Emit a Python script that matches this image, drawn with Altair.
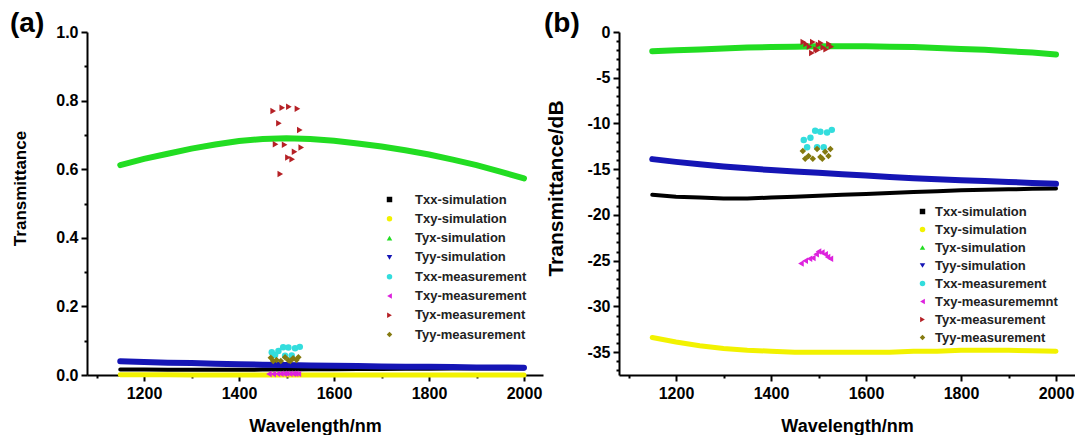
import altair as alt
import pandas as pd

# ---------------- shared wavelength grid of the simulated curves ----------------
wl_sim = [1150, 1200, 1250, 1300, 1350, 1400, 1450, 1500, 1550, 1600,
          1650, 1700, 1750, 1800, 1850, 1900, 1950, 2000]

# ---------------- panel (a): linear transmittance ----------------
a_txx_sim = [0.0162, 0.0158, 0.0154, 0.0151, 0.0151, 0.0153, 0.0157, 0.0162, 0.0166,
             0.0170, 0.0174, 0.0178, 0.0181, 0.0185, 0.0187, 0.0189, 0.0190, 0.0191]
a_txy_sim = [0.0005, 0.0004, 0.0004, 0.0003, 0.0003, 0.0003, 0.0003, 0.0003, 0.0003,
             0.0003, 0.0003, 0.0003, 0.0003, 0.0003, 0.0003, 0.0003, 0.0003, 0.0003]
a_tyx_sim = [0.612, 0.630, 0.645, 0.660, 0.672, 0.682, 0.688, 0.690, 0.688,
             0.683, 0.675, 0.666, 0.655, 0.643, 0.628, 0.612, 0.593, 0.573]
a_tyy_sim = [0.040, 0.038, 0.036, 0.035, 0.033, 0.031, 0.030, 0.029, 0.028,
             0.027, 0.026, 0.025, 0.024, 0.024, 0.023, 0.022, 0.022, 0.021]

a_txx_meas_wl = [1469, 1483, 1493, 1504, 1518, 1528, 1476, 1497, 1511]
a_txx_meas = [0.066, 0.070, 0.081, 0.080, 0.078, 0.082, 0.058, 0.056, 0.057]
a_txy_meas_wl = [1463, 1472, 1481, 1488, 1495, 1500, 1507, 1514, 1519, 1525]
a_txy_meas = [0.0030, 0.0032, 0.0033, 0.0034, 0.0037, 0.0040, 0.0039, 0.0037, 0.0035, 0.0033]
a_tyx_meas_wl = [1472, 1491, 1505, 1523, 1484, 1528, 1477, 1496, 1531, 1517, 1503, 1512, 1487]
a_tyx_meas = [0.770, 0.779, 0.782, 0.776, 0.734, 0.714, 0.673, 0.671, 0.663, 0.651, 0.634, 0.629, 0.586]
a_tyy_meas_wl = [1467, 1479, 1488, 1497, 1504, 1514, 1525, 1472, 1508, 1521]
a_tyy_meas = [0.050, 0.044, 0.041, 0.052, 0.043, 0.049, 0.052, 0.041, 0.041, 0.044]

# ---------------- panel (b): transmittance in dB ----------------
b_txx_sim = [-17.8, -18.0, -18.1, -18.2, -18.2, -18.1, -18.0, -17.9, -17.8,
             -17.7, -17.6, -17.5, -17.4, -17.3, -17.25, -17.2, -17.15, -17.1]
b_txy_sim = [-33.4, -33.9, -34.3, -34.6, -34.8, -34.9, -35.0, -35.0, -35.0,
             -35.0, -35.0, -34.9, -34.9, -34.8, -34.8, -34.8, -34.85, -34.9]
b_tyx_sim = [-2.1, -2.0, -1.9, -1.8, -1.7, -1.65, -1.6, -1.55, -1.55,
             -1.55, -1.6, -1.65, -1.75, -1.85, -1.95, -2.1, -2.25, -2.45]
b_tyy_sim = [-13.9, -14.2, -14.45, -14.7, -14.9, -15.1, -15.25, -15.4, -15.55,
             -15.7, -15.85, -16.0, -16.1, -16.2, -16.3, -16.4, -16.5, -16.6]

b_txx_meas_wl = [1469, 1483, 1493, 1504, 1518, 1528, 1476, 1497, 1511]
b_txx_meas = [-11.8, -11.55, -10.8, -10.9, -11.0, -10.7, -12.6, -12.6, -12.6]
b_txy_meas_wl = [1463, 1472, 1481, 1488, 1495, 1500, 1507, 1514, 1519, 1525]
b_txy_meas = [-25.3, -25.0, -24.8, -24.7, -24.3, -24.0, -24.1, -24.3, -24.6, -24.8]
b_tyx_meas_wl = [1468, 1474, 1481, 1488, 1495, 1500, 1505, 1510, 1516, 1522, 1527, 1486, 1498]
b_tyx_meas = [-1.1, -1.3, -1.6, -1.1, -1.9, -1.4, -1.2, -1.7, -1.9, -1.3, -1.6, -2.3, -2.0]
b_tyy_meas_wl = [1467, 1479, 1488, 1497, 1504, 1514, 1525, 1472, 1508, 1521]
b_tyy_meas = [-13.0, -13.55, -13.85, -12.8, -13.66, -13.1, -12.8, -13.85, -13.85, -13.55]

# ---------------- legend names, colours, shapes ----------------
sim_names = ["Txx-simulation", "Txy-simulation", "Tyx-simulation", "Tyy-simulation"]
a_meas_names = ["Txx-measurement", "Txy-measurement", "Tyx-measurement", "Tyy-measurement"]
b_meas_names = ["Txx-measurement", "Txy-measurememnt", "Tyx-measurement", "Tyy-measurement"]
series_colors = ["#000000", "#f2f200", "#22dd22", "#1515b5",
                 "#33dddd", "#dd22dd", "#b52025", "#857a10"]
series_shapes = ["square", "circle", "triangle-up", "triangle-down",
                 "circle", "triangle-left", "triangle-right", "diamond"]
sim_widths = [4, 5, 6, 6]
sim_draw_order = [1, 0, 3, 2]   # yellow, black, blue, green

FONT = "Liberation Sans"


def long_table(names, wl_lists, val_lists):
    rows = []
    for n, wls, vals in zip(names, wl_lists, val_lists):
        for w, v in zip(wls, vals):
            rows.append({"series": n, "wl": w, "val": v})
    return pd.DataFrame(rows)


def make_panel(tag, sim_vals, meas_wls, meas_vals, meas_names, ydom, yvals,
               ylab_test, ylab_expr, ytitle, ytitle_size, ytitle_x, ytitle_y,
               leg_x, leg_y, leg_font, leg_row, leg_offset, tag_x):
    names = sim_names + meas_names
    meas = long_table(meas_names, meas_wls, meas_vals)
    lab = pd.DataFrame({"label": [tag]})

    xs = alt.Scale(domain=[1080, 2040], nice=False, zero=False)
    ys = alt.Scale(domain=ydom, nice=False, zero=False)
    cs = alt.Scale(domain=names, range=series_colors)
    ss = alt.Scale(domain=names, range=series_shapes)

    xaxis = alt.Axis(
        title="Wavelength/nm", values=list(range(1100, 2001, 100)),
        labelExpr="datum.value % 200 == 0 ? datum.value : ''",
        tickSize={"condition": {"test": "datum.value % 200 == 0", "value": 6}, "value": 3},
        labelFontSize=16, labelPadding=4, titleFontSize=18, titlePadding=16,
    )
    yaxis = alt.Axis(
        title=ytitle, values=yvals, labelExpr=ylab_expr,
        tickSize={"condition": {"test": ylab_test, "value": 6}, "value": 3},
        labelFontSize=16, labelPadding=3, titleFontSize=ytitle_size,
        titleX=ytitle_x, titleY=ytitle_y, titleBaseline="middle", titleAngle=270,
    )
    leg = alt.Legend(
        title=None, orient="none", legendX=leg_x, legendY=leg_y,
        labelFont=FONT, labelFontWeight="bold", labelFontSize=leg_font,
        labelColor="#222222", symbolSize=30, rowPadding=leg_row,
        labelOffset=leg_offset, padding=0, symbolStrokeWidth=0,
    )

    layers = []
    for i in sim_draw_order:
        df = long_table([sim_names[i]], [wl_sim], [sim_vals[i]])
        layers.append(
            alt.Chart(df).mark_line(strokeCap="round", color=series_colors[i],
                                    strokeWidth=sim_widths[i]).encode(
                x=alt.X("wl:Q", scale=xs, axis=xaxis),
                y=alt.Y("val:Q", scale=ys, axis=yaxis),
            )
        )
    pts = alt.Chart(meas).mark_point(filled=True, size=42, opacity=1).encode(
        x=alt.X("wl:Q", scale=xs, axis=xaxis),
        y=alt.Y("val:Q", scale=ys, axis=yaxis),
        color=alt.Color("series:N", scale=cs, legend=leg),
        shape=alt.Shape("series:N", scale=ss, legend=leg),
    )
    tag_txt = alt.Chart(lab).mark_text(
        font=FONT, fontWeight="bold", fontSize=28, align="left",
        baseline="middle", color="black",
    ).encode(text="label:N", x=alt.value(tag_x), y=alt.value(-8))

    return alt.layer(*layers, pts, tag_txt).properties(width=456, height=343)


pa = make_panel(
    "(a)",
    [a_txx_sim, a_txy_sim, a_tyx_sim, a_tyy_sim],
    [a_txx_meas_wl, a_txy_meas_wl, a_tyx_meas_wl, a_tyy_meas_wl],
    [a_txx_meas, a_txy_meas, a_tyx_meas, a_tyy_meas],
    a_meas_names,
    [0, 1.0], [round(i * 0.1, 1) for i in range(11)],
    "round(datum.value * 10) % 2 == 0",
    "round(datum.value * 10) % 2 == 0 ? format(datum.value, '.1f') : ''",
    "Transmittance", 17, -67, 156,
    296, 161, 13, 5.3, 19, -77,
)

pb = make_panel(
    "(b)",
    [b_txx_sim, b_txy_sim, b_tyx_sim, b_tyy_sim],
    [b_txx_meas_wl, b_txy_meas_wl, b_tyx_meas_wl, b_tyy_meas_wl],
    [b_txx_meas, b_txy_meas, b_tyx_meas, b_tyy_meas],
    b_meas_names,
    [-37.5, 0], list(range(-37, 1)),
    "datum.value % 5 == 0",
    "datum.value % 5 == 0 ? datum.value : ''",
    "Transmittance/dB", 21, -63, 156,
    297, 173, 13, 4, 6, -75,
)

chart = alt.hconcat(pa, pb, spacing=1).resolve_scale(
    color="independent", shape="independent"
).resolve_legend(
    color="independent", shape="independent"
).properties(
    padding={"left": 2, "top": 2, "right": 0, "bottom": 0}
).configure_view(stroke=None).configure_axis(
    grid=False, domainColor="black", domainWidth=2, tickColor="black", tickWidth=2,
    labelFont=FONT, labelFontWeight="bold", labelColor="black",
    titleFont=FONT, titleFontWeight="bold", titleColor="black",
)

chart.save("out.html", embed_options={"renderer": "svg", "actions": False})
